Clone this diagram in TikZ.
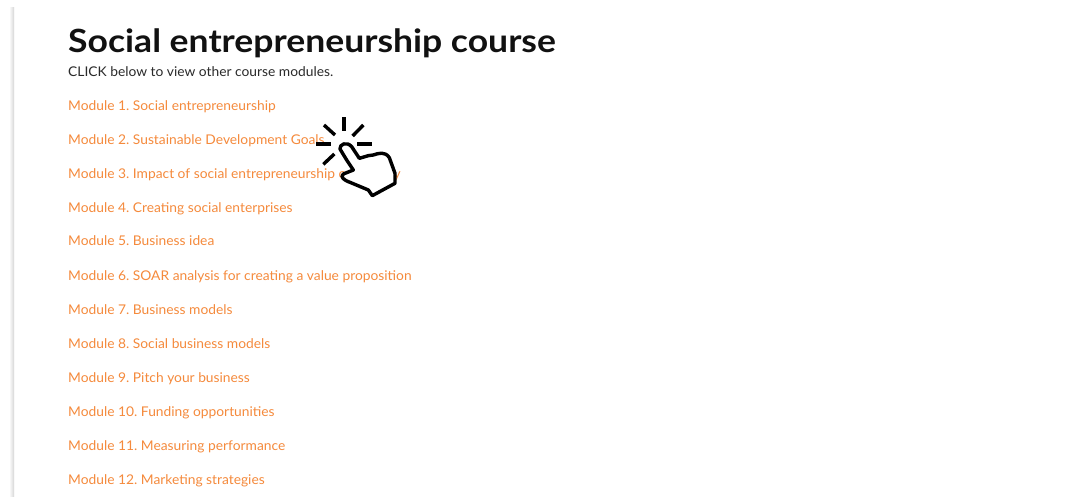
\documentclass[tikz,border=0pt]{standalone}
\usepackage{fontspec}
\setmainfont{Lato}
\newfontfamily\widetitlefont[FakeStretch=1.11]{Lato}
\newfontfamily\widebodyfont[FakeStretch=1.03]{Lato}
\frenchspacing
\definecolor{linkorange}{HTML}{F58A3C}
\definecolor{titleblack}{HTML}{111111}
\definecolor{subgrey}{HTML}{2A2A2A}
\tikzset{
  modulelink/.style={anchor=base west,inner sep=0pt,text=linkorange,font=\widebodyfont\fontsize{13.4}{16}\selectfont},
  coursetitle/.style={anchor=base west,inner sep=0pt,text=titleblack,font=\widetitlefont\fontsize{32}{38}\selectfont\bfseries},
  coursehint/.style={anchor=base west,inner sep=0pt,text=subgrey,font=\widebodyfont\fontsize{13.4}{16}\selectfont},
  handline/.style={black,line width=1.2mm,line join=round,line cap=butt}
}
\begin{document}
\begin{tikzpicture}[x=1pt,y=-1pt]
\useasboundingbox (0,0) rectangle (1074,497);
\fill[white] (0,0) rectangle (1074,497);
\shade[left color=white,right color=black!16] (9,8) rectangle (14,497);
\node[coursetitle] (title) at (68,52.5) {Social entrepreneurship course};
\node[coursehint] (hint) at (68,76.5) {CLICK below to view other course modules.};
\node[modulelink] (m1) at (68,110.5) {Module 1. Social entrepreneurship};
\node[modulelink] (m2) at (68,144.5) {Module 2. Sustainable Development Goals};
\node[modulelink] (m3) at (68,178.5) {Module 3. Impact of social entrepreneurship on society};
\node[modulelink] (m4) at (68,212.5) {Module 4. Creating social enterprises};
\node[modulelink] (m5) at (68,246) {Module 5. Business idea};
\node[modulelink] (m6) at (68,280) {Module 6. SOAR analysis for creating a value proposition};
\node[modulelink] (m7) at (68,314) {Module 7. Business models};
\node[modulelink] (m8) at (68,348) {Module 8. Social business models};
\node[modulelink] (m9) at (68,382) {Module 9. Pitch your business};
\node[modulelink] (m10) at (68,416) {Module 10. Funding opportunities};
\node[modulelink] (m11) at (68,450) {Module 11. Measuring performance};
\node[modulelink] (m12) at (68,484) {Module 12. Marketing strategies};
\begin{scope}[shift={(300,105)},x=0.3333pt,y=-0.3333pt]
\draw[handline,fill=white]
  (120,132) .. controls (118,118) and (140,108) .. (155,125)
  -- (178,160) -- (205,152) -- (220,150)
  .. controls (235,145) and (255,138) .. (268,158)
  -- (285,205) -- (285,235) -- (217,272) -- (205,255) -- (150,232)
  .. controls (130,225) and (120,215) .. (130,207)
  -- (160,195) -- (140,165) -- cycle;
\draw[handline] (132,37) -- (132,78);
\draw[handline] (72,60) -- (105,90);
\draw[handline] (190,60) -- (158,93);
\draw[handline] (48,117) -- (93,117);
\draw[handline] (172,117) -- (215,117);
\draw[handline] (70,178) -- (103,147);
\end{scope}
\end{tikzpicture}
\end{document}
